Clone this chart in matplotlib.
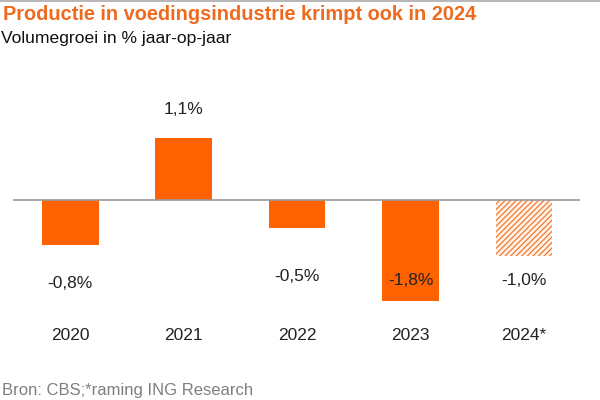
import matplotlib
matplotlib.use("Agg")
import matplotlib.pyplot as plt

# data
years = ["2020", "2021", "2022", "2023", "2024*"]
groei = [-0.8, 1.1, -0.5, -1.8, -1.0]
labels = ["-0,8%", "1,1%", "-0,5%", "-1,8%", "-1,0%"]
prognose = [False, False, False, False, True]

# label heights (layout only)
label_y = [-1.48, 1.61, -1.36, -1.43, -1.43]
year_y = -2.40

orange = "#FF6200"
plt.rcParams["font.family"] = ["Liberation Sans", "DejaVu Sans"]
plt.rcParams["hatch.linewidth"] = 0.9

fig = plt.figure(figsize=(6, 4), dpi=100)
ax = fig.add_axes([0.022, 0.0, 0.944, 1.0])

for i in range(len(years)):
    if prognose[i]:
        ax.bar(i, groei[i], width=0.5, facecolor="#FFF3EA", edgecolor="#F27A2E",
               hatch="//////", linewidth=0)
    else:
        ax.bar(i, groei[i], width=0.5, color=orange, linewidth=0)
    ax.text(i, label_y[i], labels[i], ha="center", va="center",
            fontsize=12.5, color="#222222")
    ax.text(i, year_y, years[i], ha="center", va="center",
            fontsize=12.5, color="#222222")

ax.axhline(0, color="#999999", linewidth=1.2)
ax.set_xlim(-0.503, 4.49)
ax.set_ylim(-3.55, 3.55)
ax.axis("off")

fig.text(0.005, 0.965, "Productie in voedingsindustrie krimpt ook in 2024",
         fontsize=14.4, fontweight="bold", color="#EE6A1F", ha="left", va="center")
fig.text(0.002, 0.904, "Volumegroei in % jaar-op-jaar",
         fontsize=12.6, color="#111111", ha="left", va="center")
fig.text(0.003, 0.025, "Bron: CBS;*raming ING Research",
         fontsize=12, color="#7f7f7f", ha="left", va="center")

# thin grey line at the top
fig.add_artist(plt.Line2D([0, 1], [0.998, 0.998], color="#aaaaaa", linewidth=1.2,
                          transform=fig.transFigure))

fig.savefig("out.png", dpi=100, facecolor="white")
